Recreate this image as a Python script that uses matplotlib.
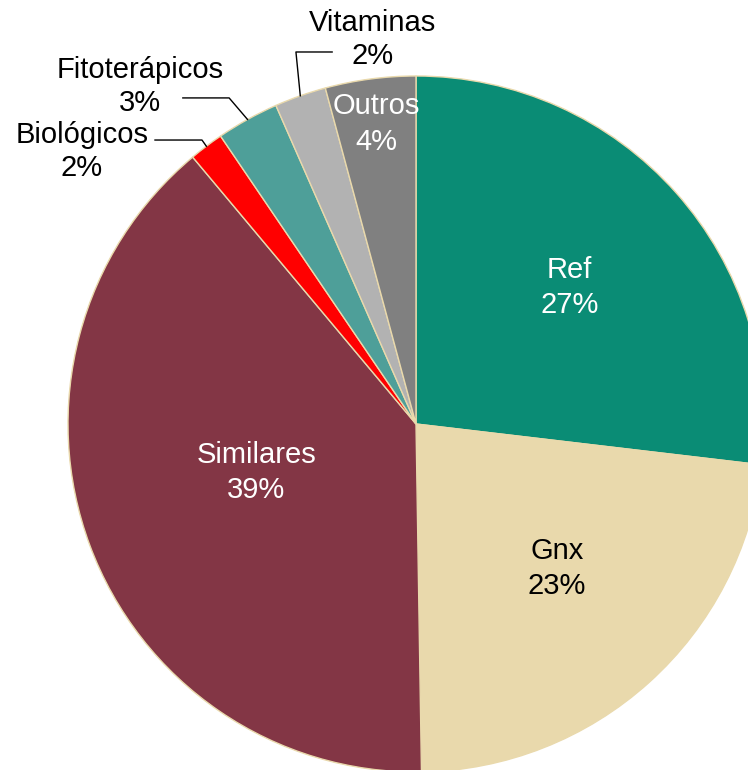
import numpy as np
import matplotlib.pyplot as plt

plt.rcParams['font.family'] = ['Liberation Sans', 'DejaVu Sans']

# slices, clockwise from 12 o'clock
labels = ['Ref', 'Gnx', 'Similares', 'Biológicos', 'Fitoterápicos', 'Vitaminas', 'Outros']
shares = [26.9, 22.9, 39.2, 1.6, 2.9, 2.4, 4.2]
colors = ['#0A8C75', '#E9D9AC', '#833645', '#FF0000', '#4E9F99', '#B2B2B2', '#808080']
pct_text = ['27%', '23%', '39%', '2%', '3%', '2%', '4%']

# inside labels: distance from centre, angle shift from slice middle, text colour
inside = {'Ref': (0.59, 0.0, 'white'), 'Gnx': (0.58, 2.2, 'black'),
          'Similares': (0.48, -3.5, 'white'), 'Outros': (0.87, 0.0, 'white')}
# outside labels: text position, start of leader, elbow of leader
outside = {
    'Vitaminas': ((-0.126, 1.105), (-0.241, 1.069), (-0.345, 1.069)),
    'Fitoterápicos': ((-0.793, 0.970), (-0.670, 0.937), (-0.537, 0.937)),
    'Biológicos': ((-0.960, 0.783), (-0.750, 0.816), (-0.615, 0.816)),
}

fig = plt.figure(figsize=(7.48, 7.70), dpi=100)
ax = fig.add_axes([0, 0, 1, 1])

wedges, _ = ax.pie(shares, colors=colors, startangle=90, counterclock=False,
                   radius=1.0,
                   wedgeprops=dict(edgecolor='#E9D9AC', linewidth=1.0))

for w, name, pct in zip(wedges, labels, pct_text):
    mid = np.deg2rad((w.theta1 + w.theta2) / 2)
    if name in inside:
        r, dt, c = inside[name]
        a = mid + np.deg2rad(dt)
        ax.text(r * np.cos(a), r * np.sin(a), f'{name}\n{pct}',
                ha='center', va='center', fontsize=21, color=c,
                linespacing=1.35)
    else:
        txt, start, elbow = outside[name]
        ax.text(txt[0], txt[1], f'{name}\n{pct}', ha='center', va='center',
                fontsize=21, color='black', linespacing=1.19)
        edge = (np.cos(mid), np.sin(mid))
        ax.plot([start[0], elbow[0], edge[0]], [start[1], elbow[1], edge[1]],
                color='black', lw=1.0, clip_on=False)

ax.set_aspect('auto')
ax.set_xlim(-416 / 348, (748 - 416) / 348)
ax.set_ylim((424 - 770) / 348, 424 / 348)
ax.axis('off')

fig.savefig('out.png', dpi=100)
